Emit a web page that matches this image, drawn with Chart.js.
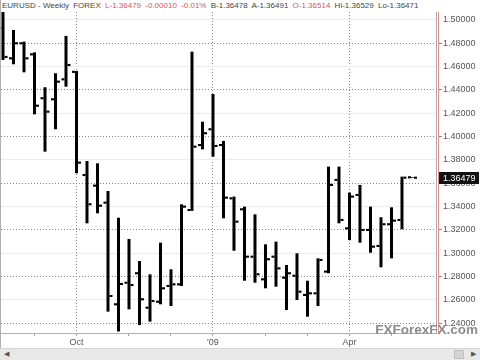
<!DOCTYPE html>
<html>
<head>
<meta charset="utf-8">
<script src="https://cdn.jsdelivr.net/npm/chart.js@4"></script>
<style>
  html, body { margin: 0; padding: 0; background: #fff; }
  #wrap { position: relative; width: 480px; height: 360px; overflow: hidden; font-family: "Liberation Sans", Arial, sans-serif; }
  #edge { position: absolute; left: 0; top: 0; width: 1px; height: 348px; background: #b0b0b0; }
  #chart { position: absolute; left: 1px; top: 0; }
  #title { position: absolute; left: 2px; top: 1px; font-size: 8px; line-height: 10px; color: #454545; white-space: nowrap; background: #fff; padding-right: 2px; }
  #title span { margin-right: 2px; }
  #title .r { color: #e05252; }
  #mark { position: absolute; right: 2px; top: 322px; font-size: 13.5px; font-weight: bold; color: #8c8c8c; }
  #scroll { position: absolute; left: 0; top: 348px; width: 480px; height: 12px; background: #e8e8e8; border-top: 1px solid #d6d6d6; box-sizing: border-box; }
  #scroll .al { position: absolute; left: 4px; top: 1px; font-size: 7px; color: #555; }
  #scroll .thumb { position: absolute; left: 454px; top: 1px; width: 10px; height: 9px; background: #d4d4d4; border: 1px solid #c0c0c0; box-sizing: border-box; }
  #scroll .ar { position: absolute; left: 471px; top: 1px; font-size: 7px; color: #555; }
</style>
</head>
<body>
<div id="wrap">
  <div id="edge"></div>
  <canvas id="chart" width="479" height="348"></canvas>
  <div id="title"><span>EURUSD - Weekly</span> <span>FOREX</span> <span class="r">L-1.36479</span> <span class="r">-0.00010</span> <span class="r">-0.01%</span> <span>B-1.36478</span> <span>A-1.36491</span> <span class="r">O-1.36514</span> <span>Hi-1.36529</span> <span>Lo-1.36471</span></div>
  <div id="mark">FXForexFX.com</div>
  <div id="scroll"><span class="al">&#9664;</span><span class="thumb"></span><span class="ar">&#9654;</span></div>
</div>
<script>
/* EURUSD weekly OHLC, Aug 2008 - May 2009 */

const weeks = [
  "2008-08-15", "2008-08-22", "2008-08-29", "2008-09-05", "2008-09-12", "2008-09-19", "2008-09-26",
  "2008-10-03", "2008-10-10", "2008-10-17", "2008-10-24", "2008-10-31", "2008-11-07", "2008-11-14",
  "2008-11-21", "2008-11-28", "2008-12-05", "2008-12-12", "2008-12-19", "2008-12-26", "2009-01-02",
  "2009-01-09", "2009-01-16", "2009-01-23", "2009-01-30", "2009-02-06", "2009-02-13", "2009-02-20",
  "2009-02-27", "2009-03-06", "2009-03-13", "2009-03-20", "2009-03-27", "2009-04-03", "2009-04-10",
  "2009-04-17", "2009-04-24", "2009-05-01", "2009-05-08", "2009-05-15",
];
const opens = [
  1.4931, 1.4671, 1.4800, 1.4705, 1.4329, 1.4320, 1.4491, 1.4555, 1.3671, 1.3580,
  1.3434, 1.2563, 1.2748, 1.2829, 1.2534, 1.2585, 1.2720, 1.2734, 1.3371, 1.3928,
  1.4063, 1.3928, 1.3471, 1.3377, 1.2971, 1.2777, 1.2971, 1.2791, 1.2808, 1.2643,
  1.2657, 1.2843, 1.3629, 1.3214, 1.3500, 1.3200, 1.3063, 1.3249, 1.3286, 1.36514,
];
const highs = [
  1.5085, 1.4914, 1.4814, 1.4722, 1.4423, 1.4543, 1.4863, 1.4563, 1.3791, 1.3771,
  1.3534, 1.3305, 1.3123, 1.2934, 1.2820, 1.3091, 1.2863, 1.3420, 1.4728, 1.4128,
  1.4365, 1.3963, 1.3486, 1.3400, 1.3334, 1.3077, 1.3100, 1.2900, 1.3000, 1.2765,
  1.2957, 1.3743, 1.3743, 1.3520, 1.3586, 1.3400, 1.3309, 1.3394, 1.3657, 1.36529,
];
const lows = [
  1.4657, 1.4620, 1.4551, 1.4191, 1.3871, 1.4063, 1.4428, 1.3686, 1.3257, 1.3343,
  1.2500, 1.2330, 1.2520, 1.2385, 1.2414, 1.2563, 1.2548, 1.2720, 1.3363, 1.3891,
  1.3828, 1.3300, 1.3022, 1.2765, 1.2748, 1.2700, 1.2714, 1.2514, 1.2600, 1.2457,
  1.2548, 1.2829, 1.3257, 1.3114, 1.3091, 1.3005, 1.2880, 1.2957, 1.3206, 1.36471,
];
const closes = [
  1.4683, 1.4800, 1.4671, 1.4265, 1.4214, 1.4471, 1.4614, 1.3777, 1.3420, 1.3408,
  1.2634, 1.2737, 1.2728, 1.2606, 1.2591, 1.2700, 1.2734, 1.3400, 1.3914, 1.4029,
  1.3920, 1.3477, 1.3271, 1.2971, 1.2820, 1.2949, 1.2871, 1.2829, 1.2671, 1.2657,
  1.2943, 1.3586, 1.3286, 1.3486, 1.3200, 1.3057, 1.3249, 1.3280, 1.3648, 1.36479,
];

const MONTHS = ["Jan", "Feb", "Mar", "Apr", "May", "Jun", "Jul", "Aug", "Sep", "Oct", "Nov", "Dec"];
const TICK_H = 0.0009;   // half-height of open/close ticks, in price units
const Y_MIN = 1.2317, Y_MAX = 1.5068;

// first week of each new month gets an x tick; quarters get a label + dotted line
const monthStarts = weeks
  .map((w, i) => (i > 0 && w.slice(5, 7) !== weeks[i - 1].slice(5, 7) ? i : -1))
  .filter((i) => i >= 0);
function monthOf(i) { return parseInt(weeks[i].slice(5, 7), 10); }
function isQuarter(i) { return i != null && monthStarts.includes(i) && (monthOf(i) - 1) % 3 === 0; }
function quarterLabel(i) {
  if (!isQuarter(i)) return "";
  const m = monthOf(i);
  return m === 1 ? "'" + weeks[i].slice(2, 4) : MONTHS[m - 1];
}
function isMajor(v) { return Math.abs(Math.round(v / 0.04) * 0.04 - v) < 1e-6; }

const scaleFont = { family: '"Liberation Sans", Arial, sans-serif', size: 9 };
const barStyle = { barThickness: 3, backgroundColor: "#000", borderColor: "#000", borderWidth: 0, inflateAmount: 0 };

const lastPriceLabel = {
  id: "lastPriceLabel",
  afterDraw(chart) {
    const y = chart.scales.y;
    const last = closes[closes.length - 1];
    const py = Math.round(y.getPixelForValue(last));
    const ctx = chart.ctx;
    ctx.save();
    ctx.fillStyle = "#111";
    ctx.fillRect(y.left + 1, py - 6, y.right - y.left - 2, 12);
    ctx.fillStyle = "#fff";
    ctx.font = '9px "Liberation Sans", Arial, sans-serif';
    ctx.textBaseline = "middle";
    ctx.fillText(last.toFixed(5), y.left + 5, py + 0.5);
    ctx.restore();
  },
};

new Chart(document.getElementById("chart"), {
  type: "bar",
  data: {
    datasets: [
      { label: "Open", data: opens.map((o, i) => ({ x: i, y: [o - TICK_H, o + TICK_H] })), ...barStyle },
      { label: "Range", data: lows.map((l, i) => ({ x: i, y: [l, highs[i]] })), ...barStyle },
      { label: "Close", data: closes.map((c, i) => ({ x: i, y: [c - TICK_H, c + TICK_H] })), ...barStyle },
    ],
  },
  options: {
    responsive: false, animation: false,
    layout: { padding: { top: 12, left: 0, right: 0, bottom: 0 } },
    plugins: { legend: { display: false }, tooltip: { enabled: false } },
    scales: {
      x: {
        type: "linear", offset: false, min: -0.19, max: 41.24,
        afterBuildTicks: (axis) => { axis.ticks = monthStarts.map((v) => ({ value: v })); },
        afterFit: (axis) => { axis.height = 15; },
        ticks: { autoSkip: false, maxRotation: 0, padding: 1, color: "#555", font: scaleFont, callback: (v) => quarterLabel(v) },
        grid: {
          offset: false,
          color: (ctx) => (ctx.tick && isQuarter(ctx.tick.value) ? "#8a8a8a" : "transparent"),
          tickColor: "#a0a0a0", tickLength: 3, tickBorderDash: [],
        },
        border: { color: "#b0b0b0", dash: [1, 2] },
      },
      y: {
        position: "right", weight: 1, min: Y_MIN, max: Y_MAX,
        afterFit: (axis) => { axis.width = 42; },
        ticks: { stepSize: 0.02, includeBounds: false, padding: 1, color: "#555", font: scaleFont, callback: (v) => v.toFixed(5) },
        grid: {
          color: (ctx) => (ctx.tick && isMajor(ctx.tick.value) ? "transparent" : "#ececec"),
          tickColor: (ctx) => (ctx.tick && isMajor(ctx.tick.value) ? "#888" : "transparent"),
          tickLength: 4,
        },
        border: { color: "#e58a8a" },
      },
      y2: {
        position: "right", weight: 0, min: Y_MIN, max: Y_MAX,
        afterFit: (axis) => { axis.width = 2; },
        ticks: { display: false, stepSize: 0.04, includeBounds: false },
        grid: { color: "#858585", drawTicks: false },
        border: { color: "#a8a8a8", dash: [1, 2] },
      },
    },
  },
  plugins: [lastPriceLabel],
});
</script>
</body>
</html>
